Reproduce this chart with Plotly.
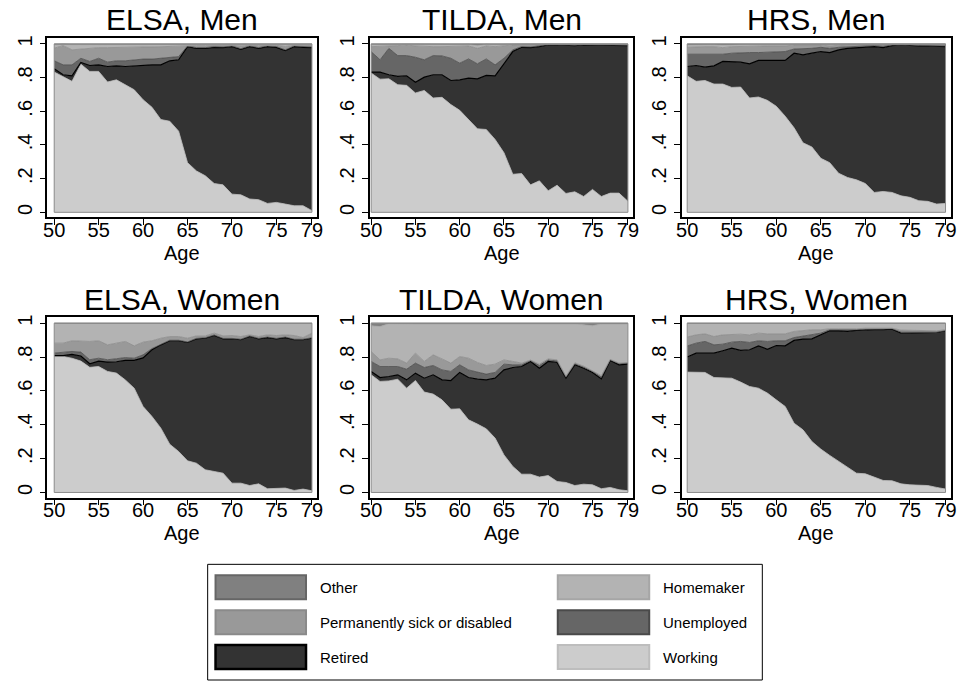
import numpy as np
import plotly.graph_objects as go

# ---------------- data: cumulative shares (upper edge of each band) ----------------
AGES = list(range(50, 80))
CATEGORIES = ["Working", "Retired", "Unemployed", "Permanently sick or disabled", "Homemaker", "Other"]
PANEL_TITLES = ["ELSA, Men", "TILDA, Men", "HRS, Men", "ELSA, Women", "TILDA, Women", "HRS, Women"]
X_TICKS = [50, 55, 60, 65, 70, 75, 79]
Y_TICKS = [0, 0.2, 0.4, 0.6, 0.8, 1]
Y_TICK_TEXT = ["0", ".2", ".4", ".6", ".8", "1"]

# ELSA, Men
elsa_men_working = [0.833,0.807,0.778,0.880,0.837,0.837,0.774,0.787,0.758,0.728,0.669,0.624,0.551,0.541,0.482,0.295,0.246,0.217,0.171,0.163,0.108,0.104,0.079,0.075,0.053,0.059,0.049,0.039,0.039,0.010]
elsa_men_retired = [0.852,0.817,0.810,0.890,0.872,0.876,0.866,0.870,0.866,0.870,0.870,0.876,0.876,0.900,0.906,0.984,0.974,0.974,0.980,0.978,0.984,0.968,0.984,0.974,0.984,0.980,0.960,0.984,0.980,0.978]
elsa_men_unemployed = [0.900,0.876,0.876,0.915,0.896,0.915,0.892,0.900,0.900,0.906,0.910,0.910,0.915,0.920,0.925,0.988,0.978,0.978,0.984,0.982,0.988,0.972,0.988,0.978,0.988,0.984,0.965,0.988,0.984,0.982]
elsa_men_sick = [0.975,0.990,0.965,0.970,0.975,0.978,0.978,0.980,0.980,0.981,0.982,0.982,0.984,0.985,0.986,0.992,0.990,0.990,0.992,0.990,0.992,0.988,0.992,0.990,0.992,0.992,0.985,0.992,0.992,0.990]
elsa_men_homemaker = [0.995,0.999,0.996,0.996,0.996,0.996,0.996,0.997,0.997,0.997,0.997,0.997,0.998,0.998,0.998,0.998,0.998,0.998,0.998,0.998,0.998,0.998,0.998,0.998,0.998,0.998,0.997,0.998,0.998,0.998]

# TILDA, Men
tilda_men_working = [0.827,0.791,0.793,0.758,0.754,0.709,0.724,0.679,0.683,0.640,0.606,0.551,0.496,0.492,0.433,0.354,0.226,0.230,0.163,0.187,0.128,0.161,0.112,0.122,0.094,0.136,0.094,0.114,0.114,0.065]
tilda_men_retired = [0.833,0.833,0.817,0.807,0.811,0.772,0.803,0.817,0.817,0.783,0.787,0.797,0.793,0.813,0.811,0.886,0.955,0.980,0.978,0.984,0.994,0.994,0.990,0.990,0.994,0.994,0.990,0.994,0.994,0.990]
tilda_men_unemployed = [0.955,0.906,0.974,0.931,0.931,0.921,0.906,0.931,0.929,0.915,0.886,0.911,0.882,0.911,0.876,0.915,0.965,0.984,0.982,0.987,0.996,0.996,0.993,0.993,0.996,0.996,0.993,0.996,0.996,0.993]
tilda_men_sick = [0.984,0.988,0.988,0.990,0.994,0.988,0.984,0.984,0.984,0.986,0.986,0.988,0.974,0.988,0.984,0.990,0.994,0.996,0.996,0.997,0.998,0.998,0.997,0.997,0.998,0.998,0.997,0.998,0.998,0.997]
tilda_men_homemaker = [0.996,0.998,0.998,0.998,0.999,0.998,0.996,0.996,0.996,0.997,0.997,0.998,0.990,0.998,0.996,0.998,0.999,0.999,0.999,0.999,0.999,0.999,0.999,0.999,0.999,0.999,0.999,0.999,0.999,0.999]

# HRS, Men
hrs_men_working = [0.811,0.778,0.783,0.762,0.762,0.742,0.744,0.679,0.685,0.665,0.630,0.571,0.502,0.413,0.388,0.321,0.295,0.232,0.207,0.193,0.171,0.118,0.124,0.118,0.098,0.089,0.069,0.065,0.049,0.053]
hrs_men_retired = [0.866,0.872,0.862,0.870,0.896,0.892,0.892,0.882,0.902,0.902,0.902,0.902,0.945,0.935,0.945,0.955,0.949,0.965,0.974,0.978,0.980,0.984,0.978,0.990,0.994,0.990,0.988,0.988,0.988,0.984]
hrs_men_unemployed = [0.939,0.939,0.935,0.935,0.939,0.945,0.949,0.949,0.949,0.951,0.955,0.955,0.970,0.970,0.974,0.980,0.974,0.980,0.984,0.986,0.988,0.990,0.986,0.994,0.996,0.994,0.992,0.992,0.992,0.988]
hrs_men_sick = [0.980,0.984,0.984,0.984,0.978,0.984,0.986,0.986,0.986,0.988,0.988,0.988,0.994,0.994,0.994,0.994,0.988,0.994,0.996,0.996,0.996,0.996,0.996,0.997,0.998,0.997,0.996,0.996,0.996,0.996]
hrs_men_homemaker = [0.994,0.995,0.995,0.995,0.993,0.995,0.996,0.996,0.996,0.997,0.997,0.997,0.998,0.998,0.998,0.998,0.997,0.998,0.999,0.999,0.999,0.999,0.999,0.999,0.999,0.999,0.999,0.999,0.999,0.999]

# ELSA, Women
elsa_women_working = [0.803,0.803,0.793,0.776,0.739,0.744,0.715,0.705,0.665,0.616,0.508,0.449,0.380,0.285,0.242,0.187,0.173,0.134,0.124,0.114,0.055,0.055,0.041,0.051,0.022,0.026,0.026,0.012,0.020,0.010]
elsa_women_retired = [0.808,0.808,0.816,0.806,0.760,0.776,0.770,0.772,0.780,0.780,0.795,0.843,0.872,0.896,0.896,0.886,0.907,0.911,0.927,0.907,0.907,0.902,0.921,0.907,0.915,0.907,0.915,0.902,0.902,0.911]
elsa_women_unemployed = [0.823,0.829,0.833,0.829,0.784,0.793,0.784,0.790,0.797,0.793,0.813,0.850,0.876,0.899,0.899,0.889,0.910,0.914,0.930,0.910,0.910,0.905,0.924,0.910,0.918,0.910,0.918,0.905,0.905,0.914]
elsa_women_sick = [0.882,0.882,0.896,0.892,0.892,0.896,0.872,0.882,0.892,0.866,0.888,0.896,0.911,0.921,0.921,0.911,0.925,0.925,0.941,0.925,0.927,0.921,0.931,0.921,0.931,0.927,0.931,0.927,0.915,0.941]
elsa_women_homemaker = [0.998]*30

# TILDA, Women
tilda_women_working = [0.695,0.656,0.659,0.669,0.616,0.661,0.593,0.581,0.547,0.492,0.494,0.429,0.404,0.376,0.321,0.222,0.154,0.108,0.108,0.091,0.100,0.065,0.059,0.041,0.049,0.045,0.022,0.030,0.016,0.010]
tilda_women_retired = [0.715,0.679,0.685,0.695,0.665,0.705,0.675,0.695,0.665,0.661,0.709,0.679,0.669,0.665,0.675,0.724,0.738,0.744,0.774,0.734,0.774,0.768,0.675,0.754,0.734,0.709,0.671,0.780,0.754,0.758]
tilda_women_unemployed = [0.774,0.744,0.744,0.744,0.728,0.764,0.738,0.750,0.724,0.715,0.754,0.724,0.711,0.699,0.709,0.758,0.754,0.754,0.778,0.750,0.783,0.777,0.681,0.760,0.740,0.715,0.681,0.783,0.760,0.764]
tilda_women_sick = [0.833,0.783,0.793,0.789,0.764,0.823,0.774,0.813,0.789,0.764,0.803,0.793,0.768,0.750,0.758,0.783,0.774,0.764,0.782,0.758,0.789,0.783,0.687,0.766,0.746,0.720,0.690,0.786,0.764,0.768]
tilda_women_homemaker = [0.984,0.980,0.997,0.995,0.995,0.995,0.995,0.995,0.995,0.995,0.995,0.995,0.993,0.995,0.995,0.995,0.995,0.995,0.995,0.995,0.995,0.995,0.995,0.995,0.990,0.985,0.995,0.995,0.995,0.995]

# HRS, Women
hrs_women_working = [0.711,0.709,0.709,0.679,0.679,0.675,0.652,0.626,0.616,0.587,0.547,0.508,0.409,0.370,0.301,0.256,0.219,0.183,0.150,0.114,0.110,0.091,0.071,0.069,0.051,0.045,0.043,0.041,0.030,0.020]
hrs_women_retired = [0.800,0.823,0.823,0.823,0.837,0.852,0.839,0.843,0.866,0.846,0.868,0.866,0.898,0.906,0.907,0.931,0.955,0.955,0.951,0.957,0.961,0.961,0.961,0.965,0.941,0.941,0.945,0.945,0.945,0.955]
hrs_women_unemployed = [0.865,0.882,0.892,0.872,0.876,0.888,0.892,0.886,0.896,0.892,0.896,0.896,0.915,0.925,0.935,0.941,0.961,0.961,0.957,0.961,0.965,0.965,0.965,0.967,0.947,0.947,0.947,0.947,0.947,0.957]
hrs_women_sick = [0.918,0.931,0.937,0.921,0.931,0.935,0.935,0.931,0.941,0.937,0.937,0.937,0.951,0.957,0.961,0.961,0.967,0.967,0.965,0.967,0.970,0.970,0.970,0.970,0.959,0.959,0.955,0.955,0.955,0.961]
hrs_women_homemaker = [0.998]*30

PANELS = [
    [elsa_men_working, elsa_men_retired, elsa_men_unemployed, elsa_men_sick, elsa_men_homemaker],
    [tilda_men_working, tilda_men_retired, tilda_men_unemployed, tilda_men_sick, tilda_men_homemaker],
    [hrs_men_working, hrs_men_retired, hrs_men_unemployed, hrs_men_sick, hrs_men_homemaker],
    [elsa_women_working, elsa_women_retired, elsa_women_unemployed, elsa_women_sick, elsa_women_homemaker],
    [tilda_women_working, tilda_women_retired, tilda_women_unemployed, tilda_women_sick, tilda_women_homemaker],
    [hrs_women_working, hrs_women_retired, hrs_women_unemployed, hrs_women_sick, hrs_women_homemaker],
]

# ---------------- styles ----------------
FILL = {"Working": "#cccccc", "Retired": "#333333", "Unemployed": "#666666",
        "Permanently sick or disabled": "#999999", "Homemaker": "#b3b3b3", "Other": "#808080"}
EDGE = {"Working": "#bdbdbd", "Retired": "#000000", "Unemployed": "#4a4a4a",
        "Permanently sick or disabled": "#8a8a8a", "Homemaker": "#a6a6a6", "Other": "#666666"}
EDGE_W = {"Working": 0.8, "Retired": 1.2, "Unemployed": 0.8,
          "Permanently sick or disabled": 0.8, "Homemaker": 0.8, "Other": 0.8}

W, H = 965, 681
FONT = "Liberation Sans, Arial, Helvetica, sans-serif"

def px(x):
    return x / W

def py(y):
    return 1 - y / H

# panel frames in pixels: (left, right), (top, bottom)
COL_FRAMES = [(38, 312), (366, 634), (683, 957)]
ROW_FRAMES = [(36, 216), (316, 497)]
X_RANGES = [(49.23, 79.55), (49.86, 79.63), (49.38, 79.63)]
Y_RANGE = (-0.03, 1.036)

fig = go.Figure()
annotations = []
shapes = []

for i, cum in enumerate(PANELS):
    r, c = divmod(i, 3)
    ax = "" if i == 0 else str(i + 1)
    xref, yref = "x" + ax, "y" + ax
    tops = [np.array(v, dtype=float) for v in cum] + [np.ones(len(AGES))]
    shares = [tops[0]] + [tops[k] - tops[k - 1] for k in range(1, len(tops))]
    for k, cat in enumerate(CATEGORIES):
        fig.add_trace(go.Scatter(
            x=AGES, y=shares[k], mode="lines", stackgroup="g%d" % i,
            line=dict(color=EDGE[cat], width=EDGE_W[cat]),
            fillcolor=FILL[cat], name=cat, showlegend=False,
            xaxis=xref, yaxis=yref, hoverinfo="skip"))
    (l, rr), (t, b) = COL_FRAMES[c], ROW_FRAMES[r]
    fig.layout["xaxis" + ax] = dict(
        domain=[px(l), px(rr)], range=list(X_RANGES[c]), anchor=yref,
        tickvals=X_TICKS, ticks="outside", ticklen=6, tickwidth=1, tickcolor="black",
        ticklabelstandoff=-12,
        showline=True, linecolor="black", linewidth=1.5, mirror=True,
        showgrid=False, zeroline=False,
        tickfont=dict(family=FONT, size=20, color="black"))
    fig.layout["yaxis" + ax] = dict(
        domain=[py(b), py(t)], range=list(Y_RANGE), anchor=xref,
        tickvals=Y_TICKS, ticktext=Y_TICK_TEXT, tickangle=-90,
        ticks="outside", ticklen=6, tickwidth=1, tickcolor="black",
        showline=True, linecolor="black", linewidth=1.5, mirror=True,
        showgrid=False, zeroline=False,
        tickfont=dict(family=FONT, size=20, color="black"))
    # outline of the data area (edges of the stacked areas)
    shapes.append(dict(type="rect", xref=xref, yref=yref, x0=AGES[0], x1=AGES[-1], y0=0, y1=1,
                       line=dict(color="#8c8c8c", width=1), fillcolor="rgba(0,0,0,0)", layer="above"))
    cx = (l + rr) / 2
    annotations.append(dict(text=PANEL_TITLES[i], x=px(cx), y=py(t - 18), xref="paper", yref="paper",
                            showarrow=False, xanchor="center", yanchor="middle",
                            font=dict(family=FONT, size=30, color="black")))
    annotations.append(dict(text="Age", x=px(cx), y=py(b + 36), xref="paper", yref="paper",
                            showarrow=False, xanchor="center", yanchor="middle",
                            font=dict(family=FONT, size=20, color="black")))

# ---------------- legend (drawn as key boxes + labels) ----------------
shapes.append(dict(type="rect", xref="paper", yref="paper", x0=px(201), x1=px(765), y0=py(680), y1=py(564),
                   line=dict(color="black", width=1), fillcolor="white", layer="below"))
LEGEND_LAYOUT = [("Other", 0, 0), ("Homemaker", 1, 0),
                 ("Permanently sick or disabled", 0, 1), ("Unemployed", 1, 1),
                 ("Retired", 0, 2), ("Working", 1, 2)]
KEY_X = [(209, 301), (557, 650)]
ROW_Y = [587, 622, 657]
for cat, col, row in LEGEND_LAYOUT:
    x0, x1 = KEY_X[col]
    yc = ROW_Y[row]
    shapes.append(dict(type="rect", xref="paper", yref="paper", x0=px(x0), x1=px(x1),
                       y0=py(yc + 12), y1=py(yc - 12),
                       line=dict(color=EDGE[cat] if cat != "Working" else "#bdbdbd",
                                 width=2.5 if cat == "Retired" else 2),
                       fillcolor=FILL[cat]))
    annotations.append(dict(text=cat, x=px(x1 + 12), y=py(yc), xref="paper", yref="paper",
                            showarrow=False, xanchor="left", yanchor="middle",
                            font=dict(family=FONT, size=15, color="black")))

fig.update_layout(width=W, height=H, margin=dict(l=0, r=0, t=0, b=0),
                  paper_bgcolor="white", plot_bgcolor="white",
                  annotations=annotations, shapes=shapes, showlegend=False)

fig.write_html("out.html", config={"displayModeBar": False})
